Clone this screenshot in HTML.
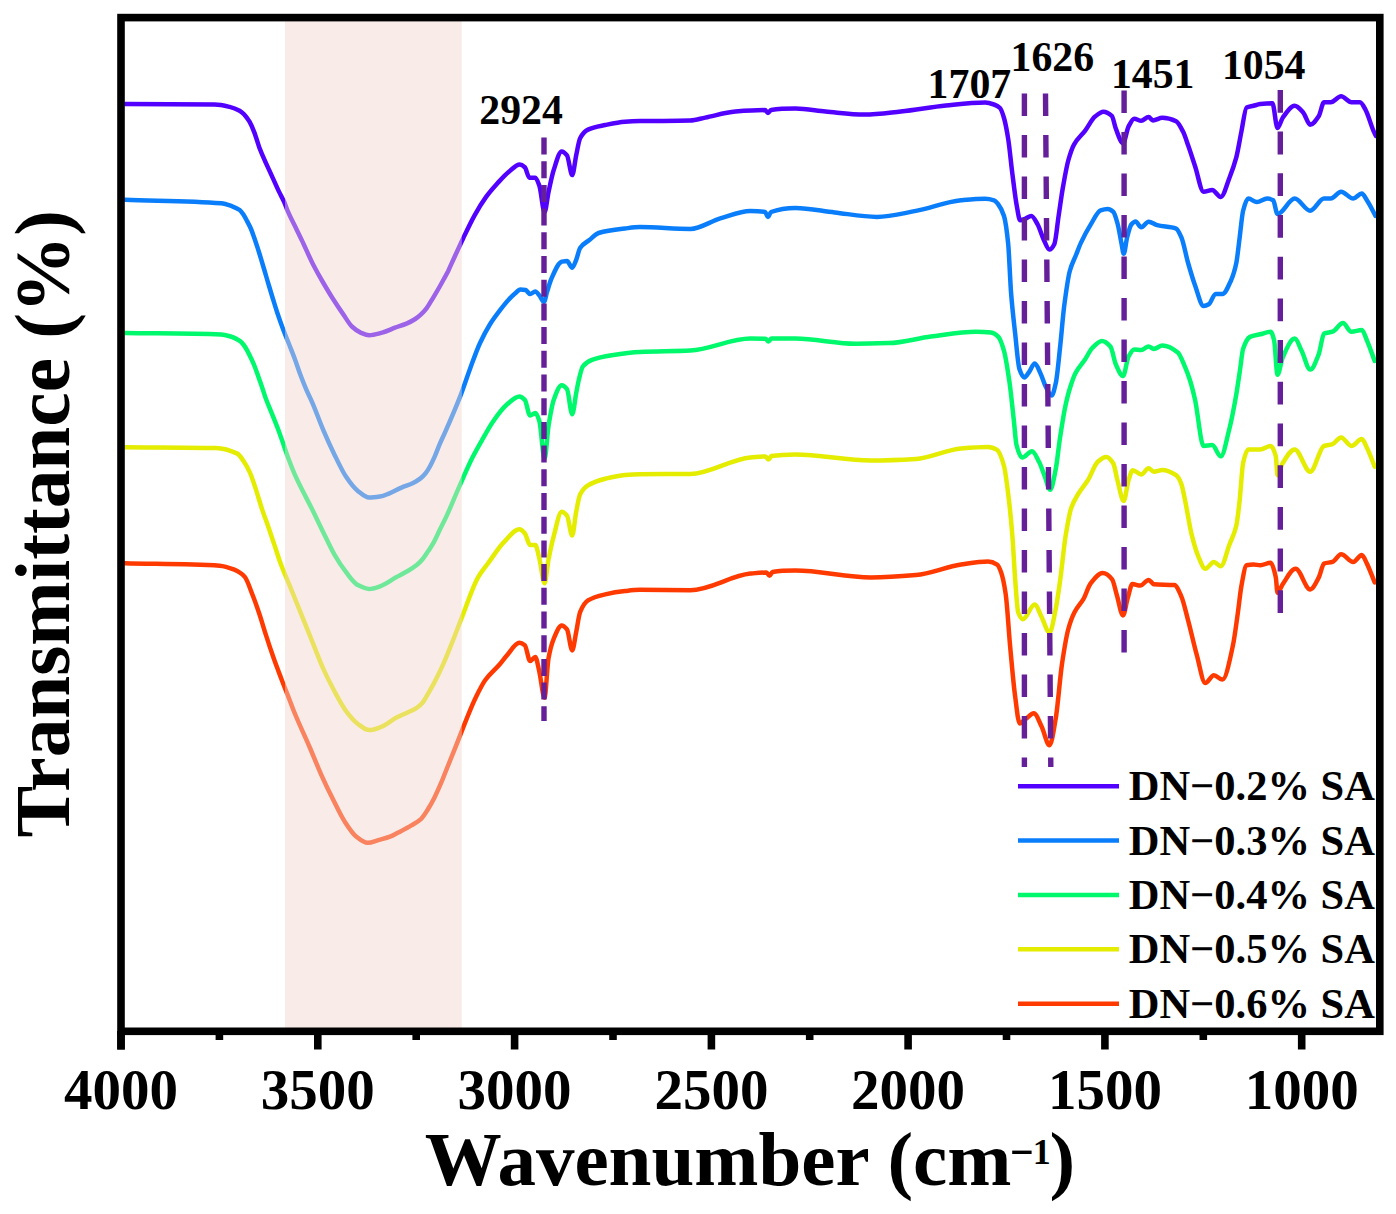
<!DOCTYPE html>
<html><head><meta charset="utf-8"><style>
html,body{margin:0;padding:0;background:#fff;}
svg{display:block;}
text{font-family:"Liberation Serif",serif;font-weight:bold;fill:#000;}
</style></head><body>
<svg width="1396" height="1214" viewBox="0 0 1396 1214">
<rect width="1396" height="1214" fill="#fff"/>
<g fill="none" stroke-width="4.5" stroke-linejoin="round" stroke-linecap="round">
<path d="M125.0,104.1C154.9,104.3 184.9,104.2 214.8,104.6C219.8,104.7 224.7,105.8 229.7,106.9C233.0,107.7 236.3,109.0 239.6,110.8C241.2,111.7 242.9,113.1 244.5,114.8C246.2,116.5 247.8,118.9 249.5,121.7C251.1,124.5 252.8,128.4 254.4,132.6C256.0,136.8 257.7,143.0 259.3,147.4C261.0,151.8 262.6,155.5 264.3,159.3C265.9,163.1 267.6,166.6 269.2,170.2C270.9,173.9 272.5,177.4 274.2,181.1C275.8,184.7 277.5,188.5 279.1,191.9C280.8,195.4 282.4,198.1 284.1,201.8C285.4,204.7 286.7,208.7 288.0,211.7C290.9,218.4 293.8,223.7 296.7,229.7C298.4,233.1 300.0,236.5 301.7,240.0C305.5,247.9 309.2,256.8 313.0,264.2C316.2,270.4 319.3,276.0 322.5,281.5C326.0,287.5 329.4,293.3 332.9,298.8C336.4,304.3 339.8,309.4 343.3,314.4C346.2,318.6 349.0,323.8 351.9,326.5C354.8,329.2 357.7,331.4 360.6,332.6C363.5,333.8 366.3,335.2 369.2,335.2C373.5,335.2 377.9,333.7 382.2,332.6C386.5,331.5 390.7,329.3 395.0,327.7C398.8,326.3 402.7,325.2 406.5,323.6C409.4,322.4 412.3,320.9 415.2,319.0C417.1,317.8 419.1,316.2 421.0,314.4C422.9,312.6 424.8,310.6 426.7,308.1C428.6,305.6 430.6,302.0 432.5,298.8C434.4,295.6 436.4,292.4 438.3,289.0C440.2,285.7 442.1,282.2 444.0,278.7C445.4,276.2 446.7,273.9 448.1,271.2C449.2,268.9 450.4,266.2 451.5,263.7C455.4,255.2 459.2,246.5 463.1,238.4C466.9,230.4 470.8,222.1 474.6,215.3C478.4,208.5 482.3,202.2 486.1,196.9C489.9,191.6 493.8,187.3 497.6,183.1C501.5,178.9 505.3,174.6 509.2,171.5C512.7,168.7 516.3,164.5 519.8,164.5C521.5,164.5 523.1,165.7 524.8,167.2C526.3,168.6 527.9,177.7 529.4,177.7C531.4,177.7 533.3,177.7 535.3,177.7C536.6,177.7 538.0,181.9 539.3,185.6C541.1,190.5 542.8,212.0 544.6,212.0C545.9,212.0 547.2,198.2 548.5,192.2C550.3,184.0 552.0,175.2 553.8,169.8C556.4,161.7 559.1,151.4 561.7,151.4C563.5,151.4 565.2,153.1 567.0,155.3C568.7,157.4 570.5,175.1 572.2,175.1C573.5,175.1 574.9,161.5 576.2,155.3C577.5,149.3 578.8,140.6 580.1,138.2C582.7,133.3 585.4,130.8 588.0,129.6C593.7,126.9 599.5,126.2 605.2,125.0C611.8,123.6 618.3,122.1 624.9,121.7C629.9,121.4 635.0,121.2 640.0,121.1C656.8,120.8 673.5,121.0 690.3,120.6C695.3,120.5 700.3,118.6 705.3,117.6C715.3,115.6 725.4,112.4 735.4,111.6C745.3,110.8 755.1,110.1 765.0,110.1C766.0,110.1 767.0,113.0 768.0,113.0C769.0,113.0 770.0,110.1 771.0,110.0C779.2,108.8 787.3,108.6 795.5,108.6C805.5,108.6 815.6,110.7 825.6,111.6C838.6,112.7 851.7,114.6 864.7,114.6C876.7,114.6 888.8,112.8 900.8,111.6C915.9,110.1 930.9,107.1 946.0,105.6C959.0,104.3 972.1,102.6 985.1,102.6C988.1,102.6 991.0,103.5 994.0,104.5C996.0,105.1 998.0,106.0 1000.0,108.0C1001.3,109.3 1002.7,113.6 1004.0,118.0C1005.4,122.7 1006.8,130.2 1008.2,139.0C1009.6,147.7 1011.0,163.1 1012.4,174.0C1013.8,184.9 1015.2,197.2 1016.6,204.8C1017.8,211.2 1018.9,220.2 1020.1,220.2C1021.7,220.2 1023.4,219.4 1025.0,218.8C1027.1,218.1 1029.2,216.0 1031.3,216.0C1033.4,216.0 1035.5,220.7 1037.6,224.4C1039.5,227.7 1041.3,234.5 1043.2,238.4C1045.3,242.8 1047.4,249.6 1049.5,249.6C1051.1,249.6 1052.8,247.2 1054.4,244.0C1055.8,241.2 1057.2,225.3 1058.6,216.0C1060.0,206.7 1061.4,196.1 1062.8,188.0C1064.7,177.3 1066.5,166.6 1068.4,160.0C1070.3,153.4 1072.1,147.9 1074.0,144.6C1077.7,137.9 1081.5,135.6 1085.2,130.6C1088.5,126.2 1091.7,119.3 1095.0,116.6C1097.8,114.3 1100.6,111.7 1103.4,111.7C1106.2,111.7 1109.0,113.3 1111.8,115.9C1113.2,117.2 1114.6,125.7 1116.0,129.2C1118.3,135.0 1120.7,143.2 1123.0,143.2C1124.9,143.2 1126.7,129.9 1128.6,126.4C1130.5,122.9 1132.3,118.7 1134.2,118.7C1136.5,118.7 1138.9,120.8 1141.2,120.8C1143.7,120.8 1146.1,117.0 1148.6,117.0C1150.0,117.0 1151.5,120.4 1152.9,120.4C1156.0,120.4 1159.2,117.8 1162.3,117.8C1166.9,117.8 1171.5,119.1 1176.1,121.3C1178.4,122.4 1180.7,127.1 1183.0,131.6C1184.7,134.9 1186.4,140.5 1188.1,145.3C1190.4,151.8 1192.7,159.1 1195.0,166.0C1197.9,174.6 1200.7,191.7 1203.6,191.7C1206.5,191.7 1209.3,190.0 1212.2,190.0C1215.1,190.0 1217.9,196.9 1220.8,196.9C1223.7,196.9 1226.5,185.3 1229.4,178.0C1231.7,172.1 1234.0,166.1 1236.3,157.4C1238.0,150.9 1239.7,139.8 1241.4,131.6C1243.1,123.2 1244.9,108.3 1246.6,107.5C1248.9,106.4 1251.2,106.4 1253.5,105.8C1255.8,105.2 1258.0,104.4 1260.3,104.1C1264.3,103.6 1268.4,103.2 1272.4,103.2C1274.1,103.2 1275.8,128.1 1277.5,128.1C1279.2,128.1 1281.0,120.2 1282.7,117.8C1286.7,112.2 1290.7,105.8 1294.7,105.8C1297.6,105.8 1300.4,109.5 1303.3,112.7C1305.6,115.3 1307.9,124.7 1310.2,124.7C1313.1,124.7 1315.9,120.4 1318.8,116.1C1320.5,113.5 1322.3,102.3 1324.0,102.3C1326.3,102.3 1328.5,102.3 1330.8,102.3C1334.2,102.3 1337.7,96.3 1341.1,96.3C1344.5,96.3 1348.0,102.3 1351.4,102.3C1354.3,102.3 1357.1,102.3 1360.0,102.3C1361.7,102.3 1363.5,106.2 1365.2,109.2C1368.1,114.1 1370.9,125.3 1373.8,131.6C1374.5,133.2 1375.3,134.5 1376.0,136.0" stroke="#5200FF"/>
<path d="M125.0,199.8C157.0,201.0 189.1,200.7 221.1,203.3C224.8,203.6 228.5,205.0 232.2,206.3C234.7,207.2 237.2,208.2 239.7,210.0C240.9,210.9 242.2,212.7 243.4,214.5C244.6,216.3 245.9,218.8 247.1,221.1C248.3,223.4 249.6,225.7 250.8,228.5C252.0,231.3 253.3,235.0 254.5,238.5C256.1,243.2 257.8,248.3 259.4,253.5C260.9,258.3 262.4,263.4 263.9,268.5C265.4,273.4 266.8,278.6 268.3,283.5C269.8,288.6 271.3,293.6 272.8,298.5C274.3,303.3 275.7,308.1 277.2,312.5C279.2,318.5 281.2,324.2 283.2,329.5C285.2,334.8 287.2,339.4 289.2,344.5C291.1,349.4 293.1,354.3 295.0,359.5C296.7,364.2 298.5,369.7 300.2,374.3C302.2,379.6 304.1,384.5 306.1,389.1C308.2,394.0 310.3,397.9 312.4,402.8C316.0,411.1 319.5,421.2 323.1,429.6C326.9,438.6 330.8,447.1 334.6,454.9C338.4,462.7 342.3,471.1 346.1,476.8C349.9,482.5 353.8,487.6 357.6,490.7C361.5,493.8 365.3,497.6 369.2,497.6C372.8,497.6 376.4,497.1 380.0,496.6C383.0,496.2 385.9,494.8 388.9,493.6C393.1,492.0 397.3,489.4 401.5,487.6C405.4,485.9 409.2,484.9 413.1,483.0C415.6,481.8 418.0,480.3 420.5,478.4C422.2,477.1 424.0,475.4 425.7,473.2C427.2,471.3 428.8,468.5 430.3,465.7C431.9,462.8 433.4,459.5 435.0,455.9C436.5,452.4 438.1,448.0 439.6,444.4C441.3,440.3 443.1,436.8 444.8,432.9C449.9,421.4 454.9,410.0 460.0,396.9C463.3,388.4 466.6,378.1 469.9,369.2C473.2,360.3 476.5,350.7 479.8,343.5C483.1,336.3 486.4,330.0 489.7,324.7C493.0,319.4 496.2,315.2 499.5,310.9C502.5,307.0 505.4,303.2 508.4,300.0C510.6,297.6 512.8,295.3 515.0,293.5C516.8,292.0 518.7,289.5 520.5,289.5C522.2,289.5 523.8,289.7 525.5,290.0C527.0,290.3 528.6,294.0 530.1,294.0C531.8,294.0 533.6,291.4 535.3,291.4C536.6,291.4 538.0,293.8 539.3,295.3C540.8,297.1 542.4,301.9 543.9,301.9C545.0,301.9 546.1,294.8 547.2,291.4C548.5,287.3 549.8,282.4 551.1,279.5C554.6,271.5 558.2,262.4 561.7,261.7C563.5,261.4 565.2,261.1 567.0,261.1C568.7,261.1 570.5,267.7 572.2,267.7C573.5,267.7 574.9,263.0 576.2,259.8C577.5,256.7 578.8,249.8 580.1,247.9C583.2,243.4 586.3,242.5 589.4,240.0C592.5,237.5 595.5,234.0 598.6,233.0C607.4,230.3 616.1,229.5 624.9,228.5C629.9,227.9 635.0,227.1 640.0,227.1C656.8,227.1 673.5,228.9 690.3,228.9C700.3,228.9 710.3,221.3 720.3,218.4C730.3,215.5 740.4,210.9 750.4,210.9C755.3,210.9 760.1,211.1 765.0,212.0C766.0,212.2 767.0,216.9 768.0,216.9C769.0,216.9 770.0,212.4 771.0,212.0C779.2,208.9 787.3,207.9 795.5,207.9C808.6,207.9 821.6,211.0 834.7,212.4C848.7,214.0 862.8,216.9 876.8,216.9C889.8,216.9 902.9,213.3 915.9,210.9C930.9,208.1 946.0,201.7 961.0,200.3C969.0,199.6 977.1,198.8 985.1,198.8C988.1,198.8 991.1,199.4 994.1,200.3C995.4,200.7 996.7,202.4 998.0,204.0C1000.0,206.5 1002.0,209.6 1004.0,216.0C1005.4,220.4 1006.8,230.2 1008.2,244.0C1009.1,253.2 1010.1,280.0 1011.0,292.0C1012.4,310.0 1013.8,321.3 1015.2,334.0C1016.6,346.7 1018.0,365.0 1019.4,369.0C1021.0,373.7 1022.7,377.4 1024.3,377.4C1025.9,377.4 1027.6,373.9 1029.2,371.8C1031.1,369.4 1032.9,363.4 1034.8,363.4C1036.7,363.4 1038.5,369.4 1040.4,373.2C1042.3,377.0 1044.1,383.7 1046.0,387.2C1047.9,390.7 1049.7,395.6 1051.6,395.6C1053.0,395.6 1054.4,389.2 1055.8,383.0C1057.2,376.8 1058.6,360.7 1060.0,348.0C1061.4,335.3 1062.8,316.9 1064.2,306.0C1066.1,291.5 1067.9,277.9 1069.8,271.0C1071.9,263.4 1073.9,260.2 1076.0,255.0C1077.7,250.8 1079.3,246.2 1081.0,242.6C1084.3,235.6 1087.5,229.7 1090.8,224.4C1094.1,219.1 1097.3,211.5 1100.6,210.4C1102.9,209.6 1105.3,209.0 1107.6,209.0C1109.5,209.0 1111.3,210.2 1113.2,211.8C1114.6,213.0 1116.0,218.1 1117.4,223.0C1118.8,227.9 1120.2,237.3 1121.6,244.0C1122.3,247.4 1123.0,253.8 1123.7,253.8C1124.9,253.8 1126.0,241.3 1127.2,237.0C1128.6,231.8 1130.0,225.9 1131.4,224.4C1132.8,222.9 1134.2,221.6 1135.6,221.6C1137.5,221.6 1139.3,227.2 1141.2,227.2C1143.7,227.2 1146.1,221.7 1148.6,221.7C1151.5,221.7 1154.3,224.4 1157.2,225.2C1163.5,226.9 1169.8,226.2 1176.1,228.6C1177.8,229.3 1179.6,233.3 1181.3,237.2C1183.6,242.3 1185.8,255.1 1188.1,263.0C1190.4,271.0 1192.7,278.9 1195.0,285.3C1197.9,293.3 1200.7,306.0 1203.6,306.0C1205.3,306.0 1207.1,305.2 1208.8,304.2C1211.1,303.0 1213.3,293.9 1215.6,293.9C1217.9,293.9 1220.2,293.9 1222.5,293.9C1225.4,293.9 1228.2,286.5 1231.1,280.2C1232.8,276.4 1234.6,271.2 1236.3,263.0C1237.4,257.6 1238.6,245.9 1239.7,237.2C1240.8,228.5 1242.0,214.9 1243.1,210.7C1244.8,204.2 1246.6,198.6 1248.3,198.6C1251.2,198.6 1254.0,202.1 1256.9,202.1C1260.3,202.1 1263.8,198.6 1267.2,198.6C1269.2,198.6 1271.2,199.2 1273.2,200.3C1274.6,201.1 1276.1,214.1 1277.5,214.1C1283.2,214.1 1289.0,198.6 1294.7,198.6C1299.9,198.6 1305.0,210.7 1310.2,210.7C1314.8,210.7 1319.4,198.6 1324.0,198.6C1326.3,198.6 1328.5,198.6 1330.8,198.6C1334.2,198.6 1337.7,191.7 1341.1,191.7C1345.1,191.7 1349.2,198.6 1353.2,198.6C1356.1,198.6 1358.9,193.5 1361.8,193.5C1363.5,193.5 1365.2,197.7 1366.9,200.3C1369.8,204.6 1372.6,210.6 1375.5,215.8" stroke="#0A7EFA"/>
<path d="M125.0,333.0C157.0,333.5 189.1,333.3 221.1,334.5C224.8,334.6 228.5,335.8 232.2,337.0C234.7,337.8 237.2,339.1 239.7,340.8C240.9,341.7 242.2,343.0 243.4,344.5C244.6,346.0 245.9,348.2 247.1,350.4C248.3,352.6 249.6,355.2 250.8,357.8C252.0,360.4 253.3,363.0 254.5,366.0C255.7,369.0 257.0,372.9 258.2,376.3C259.4,379.7 260.7,383.1 261.9,386.7C263.3,390.7 264.6,395.3 266.0,399.0C268.1,404.8 270.3,409.5 272.4,414.8C274.4,419.7 276.3,424.4 278.3,429.7C280.0,434.3 281.8,439.6 283.5,444.5C285.2,449.4 287.0,454.7 288.7,459.3C290.7,464.6 292.6,469.6 294.6,474.1C296.6,478.6 298.5,482.5 300.5,486.5C304.2,494.0 307.8,500.6 311.5,508.0C315.4,515.8 319.2,524.1 323.1,531.9C326.9,539.7 330.8,548.3 334.6,554.9C338.4,561.5 342.3,567.3 346.1,572.2C349.9,577.1 353.8,582.9 357.6,584.9C361.5,586.9 365.3,588.9 369.2,588.9C372.8,588.9 376.4,587.5 380.0,586.3C385.5,584.5 391.0,580.1 396.5,577.1C400.4,575.0 404.2,573.0 408.1,570.7C411.0,569.0 413.8,567.3 416.7,565.0C418.6,563.4 420.6,561.5 422.5,559.2C424.4,557.0 426.3,553.9 428.2,551.1C430.1,548.2 432.1,545.4 434.0,541.9C435.9,538.4 437.9,533.8 439.8,529.8C442.0,525.3 444.2,521.1 446.4,516.4C450.8,507.0 455.1,495.9 459.5,486.1C463.9,476.2 468.3,465.8 472.7,457.1C475.8,451.0 478.8,445.7 481.9,440.3C485.7,433.6 489.6,426.5 493.4,421.0C497.7,414.8 502.1,408.7 506.4,405.0C510.8,401.3 515.1,396.5 519.5,396.5C521.3,396.5 523.0,398.0 524.8,399.8C526.6,401.6 528.3,415.6 530.1,415.6C531.8,415.6 533.6,413.0 535.3,413.0C536.6,413.0 538.0,416.8 539.3,420.8C541.1,426.1 542.8,459.0 544.6,459.0C545.9,459.0 547.2,434.3 548.5,426.1C550.3,414.9 552.0,404.7 553.8,399.8C556.4,392.5 559.1,385.3 561.7,385.3C563.5,385.3 565.2,386.9 567.0,389.2C568.7,391.4 570.5,414.3 572.2,414.3C573.5,414.3 574.9,400.1 576.2,393.2C577.1,388.7 577.9,383.6 578.8,380.0C580.1,374.5 581.5,368.2 582.8,366.5C585.9,362.5 588.9,361.0 592.0,359.9C598.6,357.4 605.2,356.3 611.8,355.3C621.2,353.8 630.6,352.4 640.0,352.0C656.8,351.2 673.5,351.4 690.3,350.6C710.3,349.6 730.4,338.6 750.4,338.6C755.4,338.6 760.5,338.6 765.5,338.8C766.5,338.8 767.5,341.5 768.5,341.5C769.5,341.5 770.5,338.6 771.5,338.6C779.5,338.6 787.5,338.6 795.5,338.6C815.6,338.6 835.6,343.7 855.7,343.7C866.7,343.7 877.8,343.4 888.8,343.1C902.8,342.7 916.9,338.3 930.9,336.5C945.9,334.6 961.0,331.7 976.0,331.7C981.0,331.7 986.1,332.0 991.1,332.6C993.5,332.9 996.0,334.5 998.4,336.8C1000.3,338.6 1002.1,344.3 1004.0,350.8C1005.9,357.3 1007.7,369.9 1009.6,383.0C1011.0,392.8 1012.4,407.3 1013.8,420.0C1014.7,428.1 1015.6,441.5 1016.5,445.0C1018.4,452.3 1020.3,457.6 1022.2,457.6C1025.5,457.6 1028.7,451.3 1032.0,451.3C1034.3,451.3 1036.7,457.4 1039.0,461.8C1040.9,465.3 1042.7,471.1 1044.6,475.8C1046.5,480.5 1048.3,489.8 1050.2,489.8C1052.1,489.8 1053.9,478.2 1055.8,468.8C1057.2,461.7 1058.6,447.2 1060.0,438.0C1061.9,425.7 1063.7,413.6 1065.6,405.0C1067.1,398.2 1068.5,392.7 1070.0,388.0C1071.8,382.2 1073.6,376.7 1075.4,373.2C1078.7,366.9 1081.9,364.1 1085.2,359.2C1087.5,355.7 1089.9,350.4 1092.2,348.0C1095.5,344.7 1098.7,341.0 1102.0,341.0C1104.8,341.0 1107.6,343.4 1110.4,346.6C1112.3,348.8 1114.1,360.7 1116.0,364.8C1118.3,369.9 1120.7,376.0 1123.0,376.0C1124.9,376.0 1126.7,359.8 1128.6,356.4C1130.5,353.0 1132.3,349.4 1134.2,349.4C1136.5,349.4 1138.9,350.1 1141.2,350.1C1143.7,350.1 1146.1,346.4 1148.6,346.4C1150.3,346.4 1152.1,348.9 1153.8,348.9C1156.6,348.9 1159.5,345.5 1162.3,345.5C1167.5,345.5 1172.6,348.3 1177.8,352.4C1180.1,354.2 1182.4,360.8 1184.7,366.1C1186.4,370.1 1188.2,374.5 1189.9,380.0C1191.6,385.4 1193.3,392.0 1195.0,399.5C1197.9,412.2 1200.7,446.0 1203.6,446.0C1206.5,446.0 1209.3,445.1 1212.2,445.1C1215.1,445.1 1217.9,456.3 1220.8,456.3C1223.7,456.3 1226.5,440.1 1229.4,428.8C1231.7,419.8 1234.0,407.6 1236.3,394.4C1237.5,387.3 1238.8,378.3 1240.0,370.0C1241.0,363.1 1242.1,352.0 1243.1,348.9C1245.4,342.0 1247.7,338.0 1250.0,336.9C1253.4,335.3 1256.9,335.2 1260.3,334.3C1263.7,333.4 1267.2,331.7 1270.6,331.7C1271.8,331.7 1272.9,335.7 1274.1,340.3C1275.2,344.8 1276.4,374.7 1277.5,374.7C1279.2,374.7 1281.0,361.4 1282.7,357.5C1286.7,348.5 1290.7,338.6 1294.7,338.6C1297.0,338.6 1299.3,346.2 1301.6,350.7C1304.5,356.3 1307.3,369.6 1310.2,369.6C1313.1,369.6 1315.9,361.4 1318.8,354.1C1320.5,349.7 1322.3,334.3 1324.0,333.5C1326.8,332.3 1329.7,332.6 1332.5,331.7C1336.0,330.6 1339.4,323.1 1342.9,323.1C1345.7,323.1 1348.6,331.7 1351.4,331.7C1354.9,331.7 1358.3,330.0 1361.8,330.0C1363.5,330.0 1365.2,336.4 1366.9,340.3C1369.5,346.2 1372.1,354.1 1374.7,361.0" stroke="#00F86C"/>
<path d="M125.0,447.2C155.2,447.5 185.3,447.4 215.5,448.0C222.8,448.2 230.0,450.1 237.3,453.6C239.4,454.6 241.4,458.0 243.5,461.0C245.6,464.0 247.6,467.6 249.7,472.1C251.8,476.6 253.8,483.2 255.9,489.4C257.9,495.5 260.0,503.0 262.0,509.1C264.1,515.3 266.1,520.4 268.2,526.4C270.3,532.4 272.3,538.7 274.4,544.9C276.5,551.1 278.5,557.9 280.6,563.5C283.5,571.2 286.3,577.4 289.2,584.4C296.6,602.6 304.1,621.2 311.5,639.6C315.4,649.2 319.2,659.8 323.1,668.4C326.9,676.9 330.8,684.4 334.6,691.5C338.4,698.6 342.3,706.0 346.1,711.1C349.9,716.2 353.8,720.9 357.6,723.7C361.5,726.5 365.3,730.1 369.2,730.1C372.8,730.1 376.4,728.6 380.0,727.4C385.5,725.5 391.0,720.5 396.5,717.6C400.4,715.6 404.2,714.1 408.1,712.2C411.0,710.8 413.8,709.7 416.7,707.8C418.6,706.5 420.6,704.9 422.5,702.7C424.4,700.5 426.3,696.6 428.2,693.4C430.1,690.1 432.1,686.7 434.0,683.1C435.9,679.5 437.9,675.5 439.8,671.5C441.1,668.7 442.5,665.9 443.8,662.9C446.1,657.7 448.4,651.8 450.7,646.1C454.5,636.7 458.2,626.7 462.0,617.2C467.3,603.8 472.6,586.9 477.9,577.6C481.2,571.7 484.6,568.1 487.9,563.5C493.2,556.3 498.4,547.8 503.7,542.4C509.0,537.0 514.2,529.2 519.5,529.2C521.3,529.2 523.0,531.2 524.8,533.2C526.6,535.2 528.3,545.0 530.1,545.0C531.8,545.0 533.6,545.0 535.3,545.0C536.6,545.0 538.0,553.1 539.3,558.2C541.1,565.0 542.8,583.2 544.6,583.2C545.9,583.2 547.2,566.2 548.5,559.5C550.3,550.3 552.0,542.3 553.8,535.8C556.4,526.2 559.1,511.8 561.7,511.8C563.5,511.8 565.2,513.5 567.0,515.7C568.7,517.8 570.5,535.5 572.2,535.5C573.5,535.5 574.9,518.5 576.2,511.8C577.5,505.2 578.8,497.2 580.1,494.6C582.7,489.4 585.4,487.0 588.0,485.4C593.7,481.9 599.5,480.3 605.2,478.8C611.8,477.1 618.3,475.4 624.9,474.9C629.9,474.5 635.0,474.2 640.0,474.2C656.8,474.1 673.5,474.1 690.3,474.0C710.3,473.8 730.4,459.1 750.4,457.4C755.4,457.0 760.5,456.5 765.5,456.5C766.5,456.5 767.5,459.5 768.5,459.5C769.5,459.5 770.5,456.2 771.5,456.0C779.5,454.7 787.5,454.4 795.5,454.4C820.6,454.4 845.7,460.4 870.8,460.4C885.8,460.4 900.9,459.8 915.9,458.9C930.9,458.0 946.0,449.7 961.0,448.4C970.0,447.6 979.1,446.9 988.1,446.9C991.1,446.9 994.1,448.1 997.1,449.9C999.4,451.3 1001.7,457.7 1004.0,466.0C1005.4,471.0 1006.8,482.8 1008.2,494.0C1009.6,505.2 1011.0,518.6 1012.4,536.0C1013.3,547.6 1014.3,568.0 1015.2,580.0C1016.2,592.8 1017.2,609.5 1018.2,612.3C1019.8,616.6 1021.3,619.3 1022.9,619.3C1026.8,619.3 1030.7,604.4 1034.6,604.4C1036.9,604.4 1039.3,612.6 1041.6,617.0C1044.2,622.0 1046.9,632.6 1049.5,632.6C1051.6,632.6 1053.6,619.1 1055.7,609.1C1057.2,601.8 1058.7,590.8 1060.2,580.0C1062.0,567.1 1063.8,547.2 1065.6,536.0C1067.5,524.4 1069.3,513.4 1071.2,508.0C1073.5,501.2 1075.9,497.9 1078.2,494.0C1081.5,488.5 1084.7,485.3 1088.0,480.0C1091.3,474.7 1094.5,464.7 1097.8,461.8C1100.6,459.3 1103.4,456.9 1106.2,456.9C1108.5,456.9 1110.9,459.6 1113.2,463.2C1114.6,465.4 1116.0,474.9 1117.4,480.0C1119.5,487.7 1121.6,501.0 1123.7,501.0C1125.3,501.0 1127.0,484.9 1128.6,480.0C1130.0,475.8 1131.4,470.2 1132.8,470.2C1135.6,470.2 1138.4,474.4 1141.2,474.4C1143.7,474.4 1146.1,468.3 1148.6,468.3C1150.3,468.3 1152.1,471.7 1153.8,471.7C1156.6,471.7 1159.5,470.0 1162.3,470.0C1166.9,470.0 1171.5,472.1 1176.1,475.2C1177.8,476.4 1179.6,479.5 1181.3,483.8C1182.5,486.8 1183.8,494.2 1185.0,500.0C1187.2,510.4 1189.4,525.5 1191.6,534.4C1193.9,543.5 1196.1,551.5 1198.4,556.7C1200.7,562.0 1203.0,568.8 1205.3,568.8C1208.2,568.8 1211.0,561.9 1213.9,561.9C1216.2,561.9 1218.5,566.2 1220.8,566.2C1223.7,566.2 1226.5,552.2 1229.4,544.7C1231.7,538.7 1234.0,535.6 1236.3,525.8C1237.4,521.0 1238.6,510.1 1239.7,500.0C1240.8,489.9 1242.0,468.1 1243.1,463.1C1244.8,455.4 1246.6,449.4 1248.3,449.4C1252.3,449.4 1256.3,449.4 1260.3,449.4C1263.7,449.4 1267.2,446.0 1270.6,446.0C1272.3,446.0 1274.1,449.7 1275.8,456.3C1276.4,458.5 1276.9,475.2 1277.5,475.2C1279.2,475.2 1281.0,465.9 1282.7,463.1C1286.7,456.7 1290.7,449.4 1294.7,449.4C1299.9,449.4 1305.0,471.7 1310.2,471.7C1314.8,471.7 1319.4,447.6 1324.0,446.0C1326.8,445.0 1329.7,445.1 1332.5,444.2C1335.4,443.2 1338.2,437.4 1341.1,437.4C1344.5,437.4 1348.0,446.0 1351.4,446.0C1354.9,446.0 1358.3,439.1 1361.8,439.1C1363.5,439.1 1365.2,444.4 1366.9,447.7C1369.5,452.8 1372.1,460.3 1374.7,466.6" stroke="#E4EC00"/>
<path d="M125.0,563.2C156.6,564.0 188.2,563.8 219.8,565.7C224.6,566.0 229.5,567.8 234.3,569.6C236.0,570.2 237.8,571.2 239.5,572.3C241.3,573.4 243.0,574.7 244.8,576.9C247.4,580.1 250.1,588.6 252.7,595.3C254.9,600.9 257.1,607.2 259.3,613.8C261.5,620.4 263.7,628.1 265.9,634.9C268.5,643.1 271.2,651.2 273.8,658.6C276.4,666.0 279.1,672.8 281.7,679.7C284.3,686.6 287.0,693.2 289.6,700.0C291.0,703.6 292.4,707.5 293.8,711.0C299.2,724.4 304.6,735.4 310.0,748.0C313.8,756.9 317.7,766.8 321.5,775.3C325.4,783.9 329.2,791.8 333.1,799.5C336.9,807.1 340.8,815.5 344.6,821.4C348.4,827.3 352.3,833.4 356.1,836.4C359.9,839.4 363.8,842.8 367.6,842.8C371.5,842.8 375.3,840.9 379.2,839.9C382.8,838.9 386.4,838.1 390.0,836.7C392.7,835.7 395.5,834.0 398.2,832.6C402.6,830.3 407.0,828.1 411.4,825.4C414.7,823.4 417.9,821.8 421.2,818.8C423.4,816.7 425.6,813.0 427.8,809.5C430.0,806.0 432.2,802.0 434.4,797.7C436.6,793.4 438.8,788.3 441.0,783.2C442.8,779.1 444.5,774.4 446.3,770.0C449.3,762.5 452.3,755.0 455.3,747.6C462.2,730.5 469.1,711.0 476.0,696.9C479.1,690.6 482.2,684.3 485.3,680.0C490.2,673.2 495.1,669.8 500.0,664.0C502.1,661.5 504.3,658.4 506.4,656.0C510.8,651.1 515.1,642.8 519.5,642.8C521.3,642.8 523.0,643.8 524.8,645.2C526.6,646.6 528.3,661.0 530.1,661.0C531.8,661.0 533.6,657.0 535.3,657.0C536.6,657.0 538.0,665.9 539.3,671.5C541.0,678.8 542.8,697.7 544.5,697.7C545.8,697.7 547.2,665.7 548.5,658.3C550.3,648.6 552.0,642.8 553.8,638.6C556.4,632.4 559.1,625.4 561.7,625.4C563.5,625.4 565.2,627.1 567.0,629.4C568.7,631.6 570.5,650.4 572.2,650.4C573.5,650.4 574.9,638.4 576.2,632.0C577.5,625.7 578.8,615.4 580.1,612.2C582.7,605.7 585.4,602.0 588.0,600.4C593.7,596.9 599.5,595.7 605.2,594.4C611.8,592.9 618.3,591.8 624.9,591.1C629.9,590.5 635.0,589.8 640.0,589.8C656.8,589.8 673.5,590.2 690.3,590.2C710.3,590.2 730.4,575.6 750.4,573.6C755.8,573.1 761.1,572.5 766.5,572.5C767.5,572.5 768.5,575.8 769.5,575.8C770.5,575.8 771.5,572.2 772.5,572.0C780.2,570.8 787.8,570.6 795.5,570.6C820.6,570.6 845.7,577.5 870.8,577.5C885.8,577.5 900.9,576.4 915.9,575.1C930.9,573.8 946.0,566.8 961.0,564.6C970.0,563.3 979.1,561.6 988.1,561.6C991.1,561.6 994.1,562.7 997.1,564.6C998.4,565.4 999.7,568.5 1001.0,572.0C1002.5,576.1 1004.1,583.3 1005.6,593.5C1007.2,603.9 1008.7,631.3 1010.3,648.2C1011.9,665.1 1013.4,683.5 1015.0,695.2C1016.6,707.0 1018.1,723.4 1019.7,723.4C1021.8,723.4 1023.9,720.2 1026.0,718.7C1028.6,716.8 1031.2,713.2 1033.8,713.2C1036.4,713.2 1039.0,721.3 1041.6,726.5C1044.2,731.7 1046.9,745.3 1049.5,745.3C1051.6,745.3 1053.6,730.6 1055.7,718.7C1057.8,706.6 1059.9,678.1 1062.0,663.9C1064.1,649.9 1066.1,637.1 1068.2,629.5C1070.3,621.8 1072.4,616.4 1074.5,612.3C1077.6,606.1 1080.8,603.9 1083.9,598.2C1086.0,594.4 1088.1,586.9 1090.2,584.1C1094.4,578.6 1098.5,573.1 1102.7,573.1C1105.8,573.1 1109.0,575.6 1112.1,579.4C1113.7,581.3 1115.2,589.8 1116.8,595.0C1118.9,601.8 1120.9,615.4 1123.0,615.4C1124.6,615.4 1126.1,603.4 1127.7,598.2C1129.3,593.0 1130.8,584.1 1132.4,584.1C1135.0,584.1 1137.6,585.6 1140.2,585.6C1143.0,585.6 1145.8,579.9 1148.6,579.9C1150.3,579.9 1152.1,584.0 1153.8,584.2C1160.7,584.9 1167.5,584.4 1174.4,585.1C1176.7,585.3 1179.0,591.2 1181.3,596.3C1183.6,601.3 1185.8,611.8 1188.1,620.3C1191.0,631.0 1193.8,644.3 1196.7,654.7C1199.6,665.1 1202.4,683.1 1205.3,683.1C1208.2,683.1 1211.0,675.3 1213.9,675.3C1216.8,675.3 1219.6,679.6 1222.5,679.6C1225.9,679.6 1229.4,661.7 1232.8,646.1C1234.5,638.2 1236.3,624.0 1238.0,611.7C1239.1,603.7 1240.3,592.0 1241.4,586.0C1243.1,576.8 1244.9,565.7 1246.6,565.3C1248.9,564.8 1251.2,564.5 1253.5,564.5C1255.8,564.5 1258.0,565.3 1260.3,565.3C1263.7,565.3 1267.2,562.7 1270.6,562.7C1272.3,562.7 1274.1,569.2 1275.8,577.4C1276.4,580.1 1276.9,592.8 1277.5,592.8C1279.2,592.8 1281.0,586.7 1282.7,584.2C1287.0,578.1 1291.3,568.8 1295.6,568.8C1300.5,568.8 1305.3,589.4 1310.2,589.4C1313.1,589.4 1315.9,582.8 1318.8,577.4C1320.5,574.1 1322.3,564.3 1324.0,563.6C1326.8,562.5 1329.7,562.8 1332.5,561.9C1335.4,561.0 1338.2,554.2 1341.1,554.2C1345.1,554.2 1349.2,561.9 1353.2,561.9C1356.1,561.9 1358.9,555.0 1361.8,555.0C1363.5,555.0 1365.2,560.3 1366.9,563.6C1369.5,568.7 1372.1,576.2 1374.7,582.5" stroke="#FF3A00"/>
</g>
<rect x="285" y="21" width="176.8" height="1007" fill="#F2D6CD" fill-opacity="0.463"/>
<g stroke="#651F98" stroke-width="5.4" fill="none">
<line x1="544" y1="137.5" x2="544" y2="721" stroke-dasharray="17 6.7"/>
<line x1="1024.4" y1="93.5" x2="1024.4" y2="767" stroke-dasharray="22.6 18.9"/>
<line x1="1045.5" y1="93.5" x2="1050.8" y2="767" stroke-dasharray="22.6 18.9"/>
<line x1="1124.1" y1="90.5" x2="1124.1" y2="654" stroke-dasharray="22.6 18.9"/>
<line x1="1280.3" y1="89.9" x2="1280.3" y2="613" stroke-dasharray="22.8 18.9"/>
</g>
<g stroke="#000" stroke-width="7.6" fill="none">
<rect x="121" y="17.6" width="1258.8" height="1013.7"/>
<line x1="121.0" y1="1031" x2="121.0" y2="1049.5"/><line x1="219.4" y1="1031" x2="219.4" y2="1040"/><line x1="317.8" y1="1031" x2="317.8" y2="1049.5"/><line x1="416.2" y1="1031" x2="416.2" y2="1040"/><line x1="514.6" y1="1031" x2="514.6" y2="1049.5"/><line x1="613.0" y1="1031" x2="613.0" y2="1040"/><line x1="711.4" y1="1031" x2="711.4" y2="1049.5"/><line x1="809.7" y1="1031" x2="809.7" y2="1040"/><line x1="908.1" y1="1031" x2="908.1" y2="1049.5"/><line x1="1006.5" y1="1031" x2="1006.5" y2="1040"/><line x1="1104.9" y1="1031" x2="1104.9" y2="1049.5"/><line x1="1203.3" y1="1031" x2="1203.3" y2="1040"/><line x1="1301.7" y1="1031" x2="1301.7" y2="1049.5"/>
<line x1="121" y1="1031" x2="121" y2="1049.5"/>
</g>
<g font-size="57"><text x="121.0" y="1108.5" text-anchor="middle">4000</text><text x="317.8" y="1108.5" text-anchor="middle">3500</text><text x="514.6" y="1108.5" text-anchor="middle">3000</text><text x="711.4" y="1108.5" text-anchor="middle">2500</text><text x="908.1" y="1108.5" text-anchor="middle">2000</text><text x="1104.9" y="1108.5" text-anchor="middle">1500</text><text x="1301.7" y="1108.5" text-anchor="middle">1000</text></g>
<text x="424.7" y="1185.2" font-size="77">Wavenumber (cm</text>
<rect x="1012.2" y="1150.6" width="19.4" height="3.4" fill="#000"/>
<text x="1032.7" y="1163.5" font-size="36">1</text>
<text x="1049.4" y="1185.2" font-size="77">)</text>
<text transform="translate(69.3,837.5) rotate(-90)" font-size="77.3">Transmittance (%)</text>
<g font-size="41.8">
<text x="479.3" y="123.6">2924</text>
<text x="927.6" y="98.3">1707</text>
<text x="1010.5" y="71">1626</text>
<text x="1110.9" y="88">1451</text>
<text x="1221.9" y="78.5">1054</text>
</g>
<g stroke-width="4.5">
<line x1="1018" y1="786.2" x2="1119" y2="786.2" stroke="#5200FF"/>
<line x1="1018" y1="840.6" x2="1119" y2="840.6" stroke="#0A7EFA"/>
<line x1="1018" y1="895" x2="1119" y2="895" stroke="#00F86C"/>
<line x1="1018" y1="949.3" x2="1119" y2="949.3" stroke="#E4EC00"/>
<line x1="1018" y1="1003.7" x2="1119" y2="1003.7" stroke="#FF3A00"/>
</g>
<g font-size="42.5">
<text x="1128.7" y="800.1">DN&#8722;0.2% SA</text>
<text x="1128.7" y="854.5">DN&#8722;0.3% SA</text>
<text x="1128.7" y="908.9">DN&#8722;0.4% SA</text>
<text x="1128.7" y="963.3">DN&#8722;0.5% SA</text>
<text x="1128.7" y="1017.7">DN&#8722;0.6% SA</text>
</g>
</svg>
</body></html>
